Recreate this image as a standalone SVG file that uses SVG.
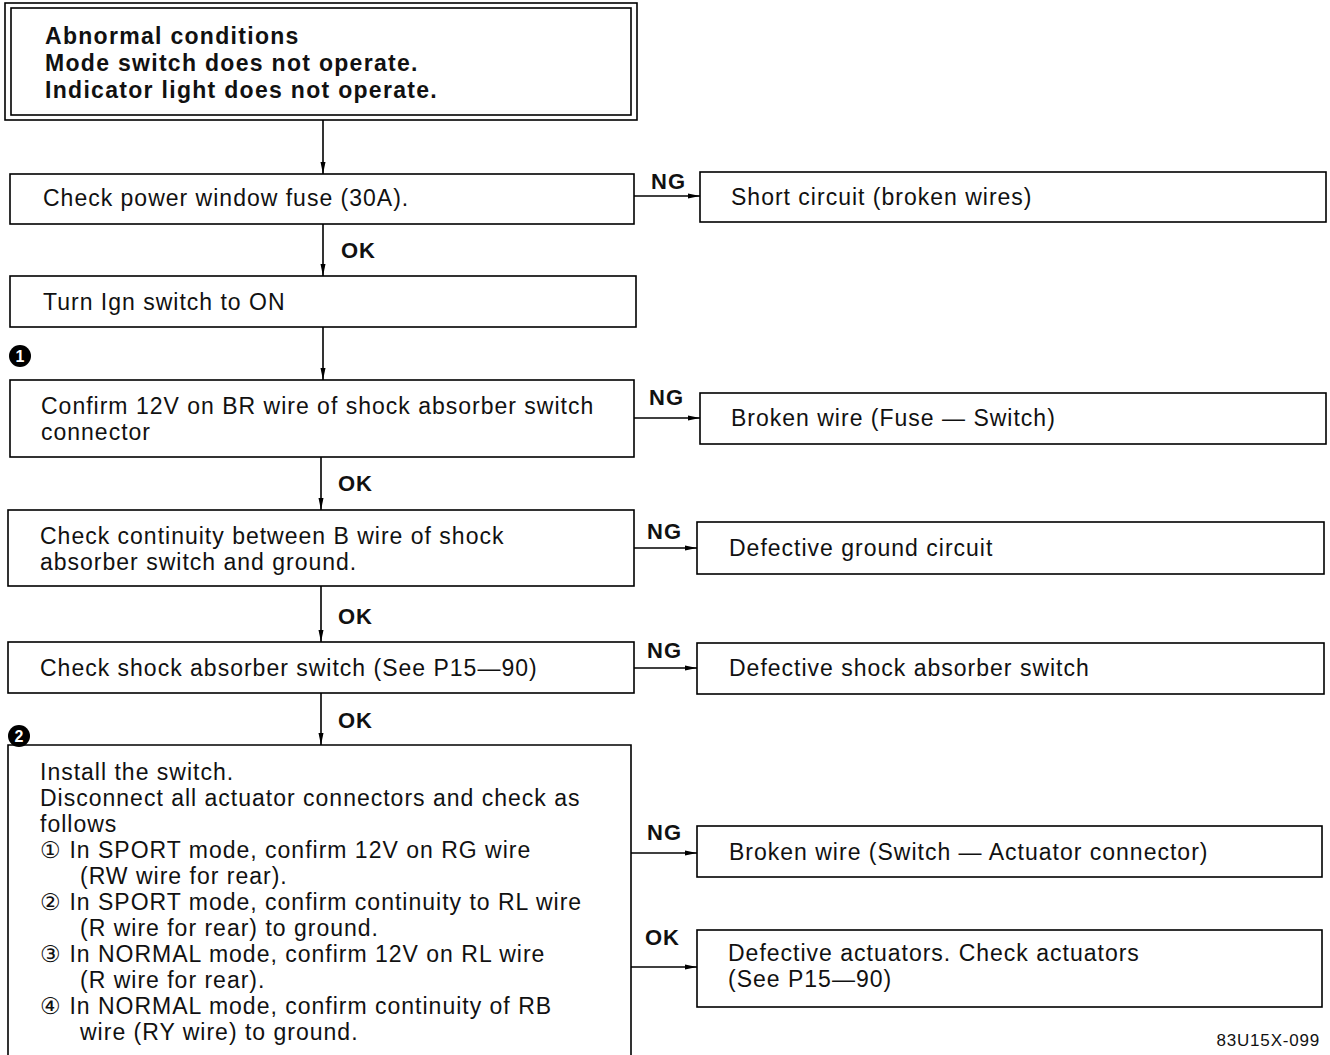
<svg xmlns="http://www.w3.org/2000/svg" width="1330" height="1055" viewBox="0 0 1330 1055">
<style>
.box{fill:#fff;stroke:#000;stroke-width:1.6}
.t{font-family:"Liberation Sans",Arial,sans-serif;font-size:23px;letter-spacing:1px;fill:#111}
.h{font-family:"Liberation Sans",Arial,sans-serif;font-size:23px;font-weight:bold;letter-spacing:1.3px;fill:#111}
.b{font-family:"Liberation Sans",Arial,sans-serif;font-size:22px;font-weight:bold;letter-spacing:1px;fill:#111}
.c{stroke:#000;stroke-width:1.6;fill:none}
.s{font-family:"Liberation Sans",Arial,sans-serif;font-size:17px;letter-spacing:0.8px;fill:#111}
</style>
<defs>
<marker id="ah" markerWidth="12" markerHeight="8" refX="12" refY="4" orient="auto" markerUnits="userSpaceOnUse">
<path d="M0,1.5 L12,4 L0,6.5 Z" fill="#000"/>
</marker>
</defs>
<rect width="1330" height="1055" fill="#fff"/>
<g id="connectors">
<line class="c" x1="323" y1="120" x2="323" y2="174" marker-end="url(#ah)"/>
<line class="c" x1="323" y1="224" x2="323" y2="276" marker-end="url(#ah)"/>
<line class="c" x1="323" y1="327" x2="323" y2="380" marker-end="url(#ah)"/>
<line class="c" x1="321" y1="457" x2="321" y2="510" marker-end="url(#ah)"/>
<line class="c" x1="321" y1="586" x2="321" y2="642" marker-end="url(#ah)"/>
<line class="c" x1="321" y1="693" x2="321" y2="745" marker-end="url(#ah)"/>
<line class="c" x1="634" y1="196" x2="700" y2="196" marker-end="url(#ah)"/>
<line class="c" x1="634" y1="418" x2="700" y2="418" marker-end="url(#ah)"/>
<line class="c" x1="634" y1="548" x2="697" y2="548" marker-end="url(#ah)"/>
<line class="c" x1="634" y1="668" x2="697" y2="668" marker-end="url(#ah)"/>
<line class="c" x1="631" y1="853" x2="697" y2="853" marker-end="url(#ah)"/>
<line class="c" x1="631" y1="967" x2="697" y2="967" marker-end="url(#ah)"/>
<text class="b" x="651" y="189">NG</text>
<text class="b" x="341" y="258">OK</text>
<text class="b" x="649" y="405">NG</text>
<text class="b" x="338" y="491">OK</text>
<text class="b" x="647" y="539">NG</text>
<text class="b" x="338" y="624">OK</text>
<text class="b" x="647" y="658">NG</text>
<text class="b" x="338" y="728">OK</text>
<text class="b" x="647" y="840">NG</text>
<text class="b" x="645" y="945">OK</text>
</g>
<g id="start">
<rect class="box" x="5" y="3" width="632" height="117"/>
<rect class="box" x="11" y="8" width="620" height="107"/>
<text class="h" x="45" y="44">Abnormal conditions</text>
<text class="h" x="45" y="71">Mode switch does not operate.</text>
<text class="h" x="45" y="98">Indicator light does not operate.</text>
</g>
<g id="fuse">
<rect class="box" x="10" y="174" width="624" height="50"/>
<text class="t" x="43" y="206">Check power window fuse (30A).</text>
</g>
<g id="short">
<rect class="box" x="700" y="172" width="626" height="50"/>
<text class="t" x="731" y="205">Short circuit (broken wires)</text>
</g>
<g id="ign">
<rect class="box" x="10" y="276" width="626" height="51"/>
<text class="t" x="43" y="310">Turn Ign switch to ON</text>
</g>
<g id="mark1">
<circle cx="20" cy="356" r="11" fill="#000"/>
<text x="20" y="362" text-anchor="middle" font-family="Liberation Sans,Arial,sans-serif" font-size="16" font-weight="bold" fill="#fff">1</text>
</g>
<g id="confirm12v">
<rect class="box" x="10" y="380" width="624" height="77"/>
<text class="t" x="41" y="414">Confirm 12V on BR wire of shock absorber switch</text>
<text class="t" x="41" y="440">connector</text>
</g>
<g id="brokenfuse">
<rect class="box" x="700" y="393" width="626" height="51"/>
<text class="t" x="731" y="426">Broken wire (Fuse — Switch)</text>
</g>
<g id="continuity">
<rect class="box" x="8" y="510" width="626" height="76"/>
<text class="t" x="40" y="544">Check continuity between B wire of shock</text>
<text class="t" x="40" y="570">absorber switch and ground.</text>
</g>
<g id="ground">
<rect class="box" x="697" y="522" width="627" height="52"/>
<text class="t" x="729" y="556">Defective ground circuit</text>
</g>
<g id="checkswitch">
<rect class="box" x="8" y="642" width="626" height="51"/>
<text class="t" x="40" y="676">Check shock absorber switch (See P15—90)</text>
</g>
<g id="defswitch">
<rect class="box" x="697" y="643" width="627" height="51"/>
<text class="t" x="729" y="676">Defective shock absorber switch</text>
</g>
<g id="mark2">
<circle cx="19" cy="736" r="11" fill="#000"/>
<text x="19" y="742" text-anchor="middle" font-family="Liberation Sans,Arial,sans-serif" font-size="16" font-weight="bold" fill="#fff">2</text>
</g>
<g id="install">
<path class="c" d="M8,1056 L8,745 L631,745 L631,1056"/>
<text class="t" x="40" y="780">Install the switch.</text>
<text class="t" x="40" y="806">Disconnect all actuator connectors and check as</text>
<text class="t" x="40" y="832">follows</text>
<text class="t" x="40" y="858">① In SPORT mode, confirm 12V on RG wire</text>
<text class="t" x="80" y="884">(RW wire for rear).</text>
<text class="t" x="40" y="910">② In SPORT mode, confirm continuity to RL wire</text>
<text class="t" x="80" y="936">(R wire for rear) to ground.</text>
<text class="t" x="40" y="962">③ In NORMAL mode, confirm 12V on RL wire</text>
<text class="t" x="80" y="988">(R wire for rear).</text>
<text class="t" x="40" y="1014">④ In NORMAL mode, confirm continuity of RB</text>
<text class="t" x="80" y="1040">wire (RY wire) to ground.</text>
</g>
<g id="brokenact">
<rect class="box" x="697" y="826" width="625" height="51"/>
<text class="t" x="729" y="860">Broken wire (Switch — Actuator connector)</text>
</g>
<g id="defact">
<rect class="box" x="697" y="930" width="625" height="77"/>
<text class="t" x="728" y="961">Defective actuators. Check actuators</text>
<text class="t" x="728" y="987">(See P15—90)</text>
</g>
<text class="s" x="1320" y="1046" text-anchor="end">83U15X-099</text>
</svg>
